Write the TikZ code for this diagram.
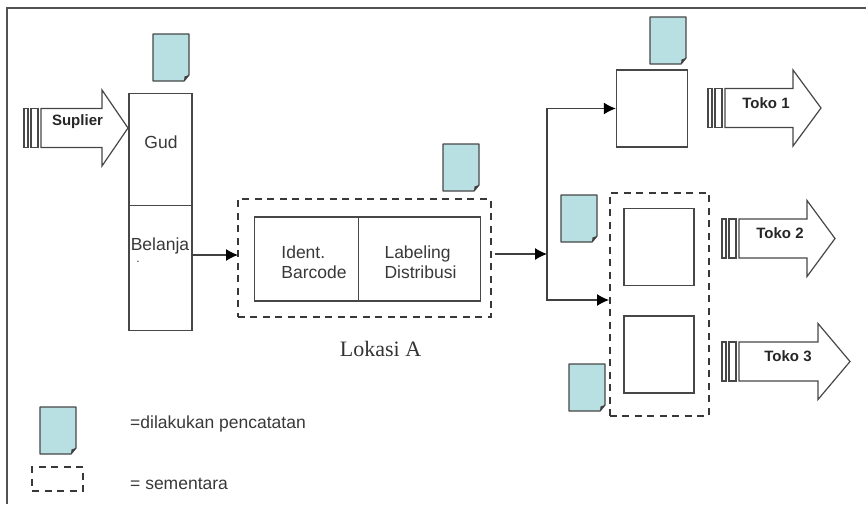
\documentclass[tikz,border=0pt]{standalone}
\usepackage{fontspec}
\setmainfont{Liberation Sans}
\newfontfamily\serifnm{Liberation Serif}
\usetikzlibrary{arrows.meta}
\definecolor{docblue}{RGB}{184,223,226}
\tikzset{
 x=1pt,y=-1pt,
 boxline/.style={draw=black!72,line width=1.4pt},
 dashbox/.style={draw=black!78,line width=2pt,dash pattern=on 7pt off 5.5pt},
 conn/.style={draw=black!75,line width=1.2pt,-{Latex[length=12pt,width=12pt,black]}},
 lbl/.style={font=\fontsize{17.5}{20}\selectfont,text=black!78,inner sep=0pt,align=left},
 blbl/.style={font=\fontsize{15}{17}\selectfont\bfseries,text=black!85,inner sep=0pt},
}
\newcommand{\docicon}[2]{%
 \draw[draw=black!72,line width=1.3pt,fill=docblue,line join=round] (#1,#2) -- ++(36,0) -- ++(0,41) -- ++(-5,6) -- ++(-31,0) -- cycle;
 \fill[black!75] (#1+36,#2+41) -- (#1+31,#2+47) -- (#1+31.5,#2+42.5) -- cycle;
}
\newcommand{\blockarrow}[4]{%
 \draw[boxline,line width=1.2pt] (#1,#2-19.5) rectangle ++(4,39);
 \draw[boxline,line width=1.2pt] (#1+7,#2-19.5) rectangle ++(7,39);
 \draw[boxline,line width=1.2pt,line join=miter] (#1+17,#2-19.5) -- (#3,#2-19.5) -- (#3,#2-38) -- (#4,#2) -- (#3,#2+38) -- (#3,#2+19.5) -- (#1+17,#2+19.5) -- cycle;
}
\begin{document}
\begin{tikzpicture}
\useasboundingbox (0,0) rectangle (866,504);
\draw[draw=black!68,line width=1.8pt] (7,504) -- (7,8) -- (866,8);

\docicon{153}{34}
\docicon{650}{17}
\docicon{443}{144}
\docicon{561}{195}
\docicon{569}{364}
\docicon{40}{407}

\blockarrow{24}{128}{102}{128}
\node[blbl] (sup) at (77.5,122) {Suplier};
\blockarrow{708}{108}{793}{821}
\node[blbl] (t1) at (766,103) {Toko 1};
\blockarrow{722}{238.5}{807}{835}
\node[blbl] (t2) at (780,233) {Toko 2};
\blockarrow{722}{361.5}{818}{850}
\node[blbl] (t3) at (788,356) {Toko 3};

\node[boxline,minimum width=63pt,minimum height=112pt,inner sep=0pt] (gud) at (160.5,149.5) {};
\node[lbl] (gudtxt) at (161,142) {Gud};
\node[boxline,minimum width=63pt,minimum height=125pt,inner sep=0pt] (bel) at (160.5,268) {};
\node[lbl] (beltxt) at (160,246) {Belanja};
\node[lbl,font=\fontsize{12}{12}\selectfont,anchor=base] (beldot) at (138,262) {.};

\node[dashbox,minimum width=253pt,minimum height=118pt,inner sep=0pt] (lokasi) at (364,258) {};
\node[boxline,minimum width=104pt,minimum height=84pt,inner sep=0pt] (ident) at (306.5,259) {};
\node[boxline,minimum width=122pt,minimum height=84pt,inner sep=0pt] (label) at (419.5,259) {};
\node[lbl] (identtxt) at (314,262) {Ident.\\Barcode};
\node[lbl] (labeltxt) at (420.5,262) {Labeling\\Distribusi};
\node[font=\serifnm\fontsize{22}{24}\selectfont,text=black!80,inner sep=0pt] (lok) at (380.5,349) {Lokasi A};

\node[boxline,minimum width=71pt,minimum height=77pt,inner sep=0pt] (s1) at (652,108.5) {};
\node[dashbox,minimum width=99pt,minimum height=223pt,inner sep=0pt] (grp) at (659,304) {};
\node[boxline,minimum width=70pt,minimum height=77pt,inner sep=0pt] (s2) at (659,247) {};
\node[boxline,minimum width=70pt,minimum height=77pt,inner sep=0pt] (s3) at (659,354.5) {};

\coordinate (j) at (547,254);
\coordinate (belout) at (192,255);
\coordinate (lokin) at (238,255);
\coordinate (lokout) at (495,254);
\coordinate (grpin) at (609,300);
\draw[conn] (belout) -- (lokin);
\draw[conn] (lokout) -- (j);
\draw[conn] (j) |- (s1.west);
\draw[conn] (j) |- (grpin);

\node[lbl,anchor=west] (leg1) at (130,424) {=dilakukan pencatatan};
\node[dashbox,line width=1.7pt,minimum width=51pt,minimum height=24pt,inner sep=0pt] (leg) at (57.5,479) {};
\node[lbl,anchor=west] (leg2) at (130,484) {= sementara};
\end{tikzpicture}
\end{document}
